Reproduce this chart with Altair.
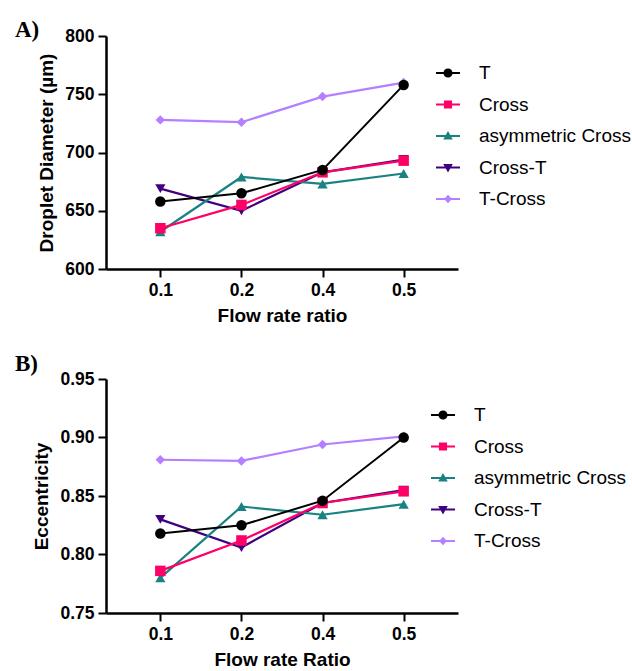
import altair as alt
import pandas as pd

ratios = ["0.1", "0.2", "0.4", "0.5"]
series = ["T", "Cross", "asymmetric Cross", "Cross-T", "T-Cross"]
colors = ["#000000", "#FF0066", "#1A8282", "#41007F", "#B57FFF"]
shapes = ["circle", "square", "triangle-up", "triangle-down", "diamond"]
sizes = [110, 110, 105, 105, 90]

diam_T = [658, 665, 685, 758]
diam_Cross = [635, 655, 683, 693]
diam_Asym = [632, 679, 673, 682]
diam_CrossT = [669, 650, 683, 694]
diam_TCross = [728, 726, 748, 760]

ecc_T = [0.818, 0.825, 0.846, 0.900]
ecc_Cross = [0.786, 0.812, 0.844, 0.854]
ecc_Asym = [0.780, 0.841, 0.834, 0.843]
ecc_CrossT = [0.830, 0.806, 0.844, 0.855]
ecc_TCross = [0.881, 0.880, 0.894, 0.901]

# legend glyphs: marker + horizontal line, in the unit square
LINE = "M-1,-0.08H1V0.08H-1Z "
legend_paths = [
    LINE + "M0.38,0 A0.38,0.38 0 1,1 -0.38,0 A0.38,0.38 0 1,1 0.38,0Z",
    LINE + "M-0.34,-0.34H0.34V0.34H-0.34Z",
    LINE + "M0,-0.42L0.4,0.3L-0.4,0.3Z",
    LINE + "M-0.4,-0.3L0.4,-0.3L0,0.42Z",
    LINE + "M0,-0.36L0.32,0L0,0.36L-0.32,0Z",
]

FONT = "Liberation Sans"


def make_df(vals):
    rows = []
    for s, v in zip(series, vals):
        for r, y in zip(ratios, v):
            rows.append({"ratio": r, "series": s, "value": y})
    return pd.DataFrame(rows)


def panel(vals, ydom, yvals, yfmt, ytitle, xtitle, title, legend_x, legend_y, h, tdy):
    df = make_df(vals)
    base = alt.Chart(df)
    x = alt.X("ratio:O", sort=ratios, title=xtitle,
              scale=alt.Scale(type="point", padding=0.67),
              axis=alt.Axis(labelAngle=0))
    y = alt.Y("value:Q", title=ytitle,
              scale=alt.Scale(domain=ydom, nice=False, zero=False),
              axis=alt.Axis(values=yvals, format=yfmt))
    layers = []
    for i in reversed(range(len(series))):
        s = series[i]
        sub = base.transform_filter(alt.datum.series == s)
        layers.append(sub.mark_line(color=colors[i], strokeWidth=2.2 if i else 2.0).encode(x=x, y=y))
        layers.append(sub.mark_point(shape=shapes[i], size=sizes[i], filled=True, opacity=1,
                                     color=colors[i]).encode(x=x, y=y))
    leg = alt.Legend(title=None, orient="none", legendX=legend_x, legendY=legend_y,
                     labelFont=FONT, labelFontSize=19, labelColor="black",
                     symbolSize=576, symbolStrokeWidth=0, symbolOpacity=1,
                     labelOffset=19, rowPadding=9.5, labelLimit=300)
    legend_layer = base.mark_point(size=0, filled=True).encode(
        x=x, y=y,
        color=alt.Color("series:N", sort=series,
                        scale=alt.Scale(domain=series, range=colors), legend=leg),
        shape=alt.Shape("series:N", sort=series,
                        scale=alt.Scale(domain=series, range=legend_paths), legend=leg),
    )
    layers.append(legend_layer)
    return alt.layer(*layers).properties(
        width=352, height=h,
        title=alt.TitleParams(text=title, anchor="start", frame="group", dx=-91, dy=tdy,
                              font="Liberation Serif", fontSize=23, fontWeight="bold",
                              color="black", offset=2),
    )


top = panel([diam_T, diam_Cross, diam_Asym, diam_CrossT, diam_TCross],
            [600, 800], [600, 650, 700, 750, 800], "d",
            "Droplet Diameter (µm)", "Flow rate ratio", "A)", 330, 25, 233, 17)
bottom = panel([ecc_T, ecc_Cross, ecc_Asym, ecc_CrossT, ecc_TCross],
               [0.75, 0.95], [0.75, 0.80, 0.85, 0.90, 0.95], ".2f",
               "Eccentricity", "Flow rate Ratio", "B)", 325, 24, 234, 8)

chart = alt.vconcat(top, bottom, spacing=27).resolve_scale(
    color="independent", shape="independent"
).resolve_legend(
    color="independent", shape="independent"
).properties(
    padding={"left": 15, "top": 19, "right": 0, "bottom": 0}
).configure_view(stroke=None).configure_axis(
    grid=False, domainColor="black", domainWidth=2.5, tickColor="black", tickWidth=2,
    tickSize=8, labelFont=FONT, labelFontWeight="bold", labelFontSize=17.5,
    labelColor="black", labelPadding=4, titleFont=FONT, titleFontSize=19,
    titleFontWeight="bold", titleColor="black", titlePadding=8,
).configure_title(font="Liberation Serif")

chart.save("out.html", embed_options={"renderer": "svg", "actions": False})
